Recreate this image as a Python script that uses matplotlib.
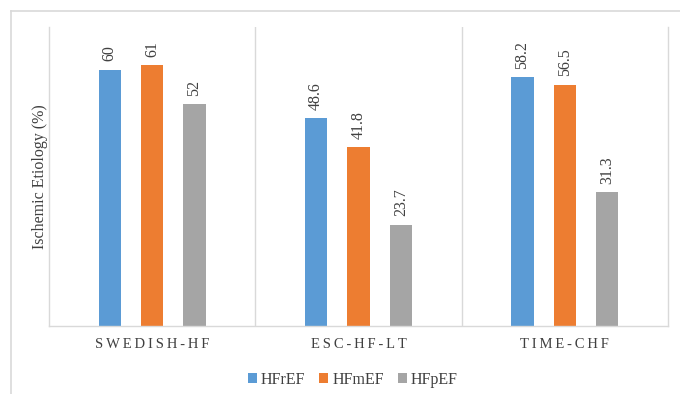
import matplotlib
matplotlib.use("Agg")
import matplotlib.pyplot as plt
import numpy as np
from matplotlib.lines import Line2D

# ── Data ───────────────────────────────────────────────────────────────────────

registries = ["SWEDISH-HF", "ESC-HF-LT", "TIME-CHF"]
hfref = [60, 48.6, 58.2]
hfmef = [61, 41.8, 56.5]
hfpef = [52, 23.7, 31.3]
series_names = ["HFrEF", "HFmEF", "HFpEF"]

COLORS = ["#5B9BD5", "#ED7D31", "#A5A5A5"]
GRID = "#D9D9D9"
TEXT = "#404040"
THIN = "\u2009"

plt.rcParams["font.family"] = ["Liberation Serif", "DejaVu Serif"]

fig = plt.figure(figsize=(6.8, 3.94), dpi=100)
ax = fig.add_axes([49 / 680, 1 - 326 / 394, 619 / 680, 299 / 394])

# outer chart frame (top + left edges)
fig.add_artist(Line2D([11 / 680, 1.0], [1 - 11 / 394] * 2, color=GRID, lw=1.2,
                      transform=fig.transFigure))
fig.add_artist(Line2D([11 / 680] * 2, [0.0, 1 - 11 / 394], color=GRID, lw=1.2,
                      transform=fig.transFigure))

x = np.arange(len(registries))
width = 0.107
step = 0.205

for i, (vals, name) in enumerate(zip([hfref, hfmef, hfpef], series_names)):
    pos = x + (i - 1) * step
    bars = ax.bar(pos, vals, width, color=COLORS[i], label=name, zorder=2)
    for b, v in zip(bars, vals):
        ax.annotate(f"{v:g}", (b.get_x() + b.get_width() / 2, v),
                    xytext=(0, 6), textcoords="offset points",
                    ha="center", va="bottom", rotation=90,
                    fontsize=11.5, color=TEXT)

ax.set_xlim(-0.5, 2.5)
ax.set_ylim(0, 70)

# category separators
for sep in (0.5, 1.5):
    ax.axvline(sep, color=GRID, lw=1.0, zorder=1)

for side in ("left", "right", "bottom"):
    ax.spines[side].set_color(GRID)
    ax.spines[side].set_linewidth(1.0)
ax.spines["top"].set_visible(False)

ax.set_yticks([])
ax.set_xticks(x)
ax.set_xticklabels([THIN.join(r) for r in registries], fontsize=10.5, color=TEXT)
ax.tick_params(axis="x", length=0, pad=9)

ax.set_ylabel("Ischemic Etiology (%)", fontsize=11.5, color=TEXT, labelpad=1)

ax.legend(loc="upper center", bbox_to_anchor=(0.491, -0.105), ncol=3,
          frameon=False, fontsize=11.5, handlelength=0.55, handleheight=0.55,
          handletextpad=0.25, columnspacing=0.9, labelcolor=TEXT)

fig.savefig("out.png", dpi=100)
